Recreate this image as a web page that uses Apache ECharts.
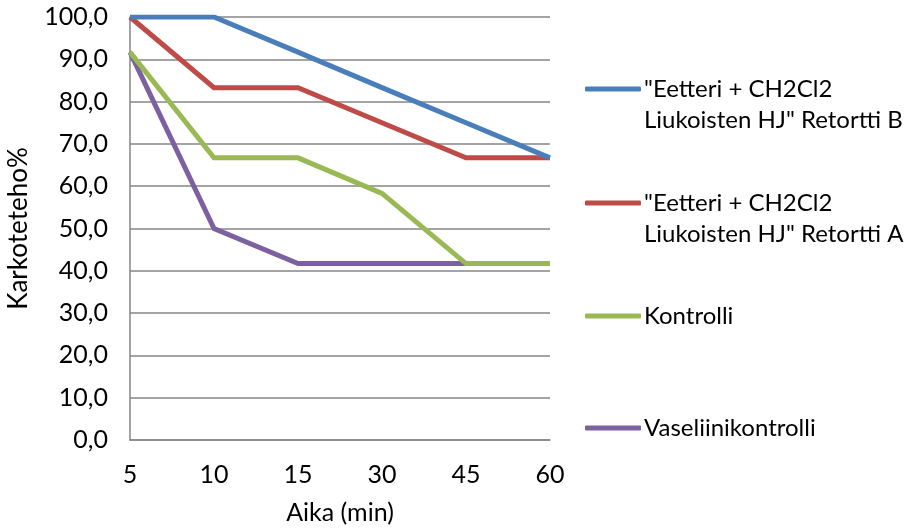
<!DOCTYPE html>
<html>
<head>
<meta charset="utf-8">
<script src="https://cdn.jsdelivr.net/npm/echarts@6/dist/echarts.min.js"></script>
<style>
  html, body { margin: 0; padding: 0; background: #fff; }
  #chart { width: 913px; height: 530px; }
</style>
</head>
<body>
<div id="chart"></div>
<script>
// Time points (min) and retention efficiency (%) per treatment
const times = ['5', '10', '15', '30', '45', '60'];
const seriesNames = [
  '"Eetteri + CH2Cl2 Liukoisten HJ" Retortti B',
  '"Eetteri + CH2Cl2 Liukoisten HJ" Retortti A',
  'Kontrolli',
  'Vaseliinikontrolli'
];
const retorttiB = [100.0, 100.0, 91.7, 83.3, 75.0, 66.7];
const retorttiA = [100.0, 83.3, 83.3, 75.0, 66.7, 66.7];
const kontrolli = [91.7, 66.7, 66.7, 58.3, 41.7, 41.7];
const vaseliini = [91.7, 50.0, 41.7, 41.7, 41.7, 41.7];
const legendLines = [
  ['"Eetteri + CH2Cl2', 'Liukoisten HJ" Retortti B'],
  ['"Eetteri + CH2Cl2', 'Liukoisten HJ" Retortti A'],
  ['Kontrolli'],
  ['Vaseliinikontrolli']
];

const colors = ['#4a7ebb', '#be4b48', '#98b954', '#7d60a0'];
const values = [retorttiB, retorttiA, kontrolli, vaseliini];
const FONT = 'Lato';
const FS = 24;
const LH = 31;
const gray = '#868686';

// one legend block per series so each entry sits at its own height;
// two-line entries get a blank leading line so the swatch lines up with line one
const legendTops = [89, 203, 316, 428];
const legends = seriesNames.map((name, i) => {
  const lines = legendLines[i];
  const multi = lines.length > 1;
  return {
    data: [name],
    orient: 'vertical',
    left: 585,
    top: legendTops[i] - (multi ? LH * 1.5 : LH / 2),
    itemWidth: 56,
    itemHeight: 5,
    itemGap: 0,
    padding: 0,
    selectedMode: false,
    icon: 'roundRect',
    formatter: () => (multi ? '\n' : '') + lines.join('\n'),
    textStyle: { fontFamily: FONT, fontSize: FS, lineHeight: LH, color: '#000', padding: [0, 0, 0, -2] }
  };
});

const chart = echarts.init(document.getElementById('chart'), null, { renderer: 'canvas' });
chart.setOption({
  animation: false,
  color: colors,
  textStyle: { fontFamily: FONT },
  grid: { left: 130, top: 17, width: 420, height: 423, containLabel: false },
  legend: legends,
  xAxis: {
    type: 'category',
    data: times,
    boundaryGap: false,
    name: 'Aika (min)',
    nameLocation: 'middle',
    nameGap: 60,
    nameTextStyle: { fontFamily: FONT, fontSize: 25, color: '#000' },
    axisLine: { lineStyle: { color: gray, width: 1.5 } },
    axisTick: { show: false },
    axisLabel: { fontFamily: FONT, fontSize: 25, color: '#000', margin: 22 },
    splitLine: { show: false }
  },
  yAxis: {
    type: 'value',
    min: 0,
    max: 100,
    interval: 10,
    name: 'Karkoteteho%',
    nameLocation: 'middle',
    nameGap: 98,
    nameTextStyle: { fontFamily: FONT, fontSize: 26, color: '#000' },
    axisLine: { show: true, lineStyle: { color: gray, width: 1.5 } },
    axisTick: { show: false },
    axisLabel: {
      fontFamily: FONT, fontSize: 25, color: '#000', margin: 22,
      formatter: v => v.toFixed(1).replace('.', ',')
    },
    splitLine: { lineStyle: { color: gray, width: 1.5 } }
  },
  series: seriesNames.map((name, i) => ({
    name,
    type: 'line',
    data: values[i],
    symbol: 'none',
    lineStyle: { width: 5, color: colors[i], join: 'miter' },
    itemStyle: { color: colors[i] },
    z: 10 - i
  }))
});
</script>
</body>
</html>
